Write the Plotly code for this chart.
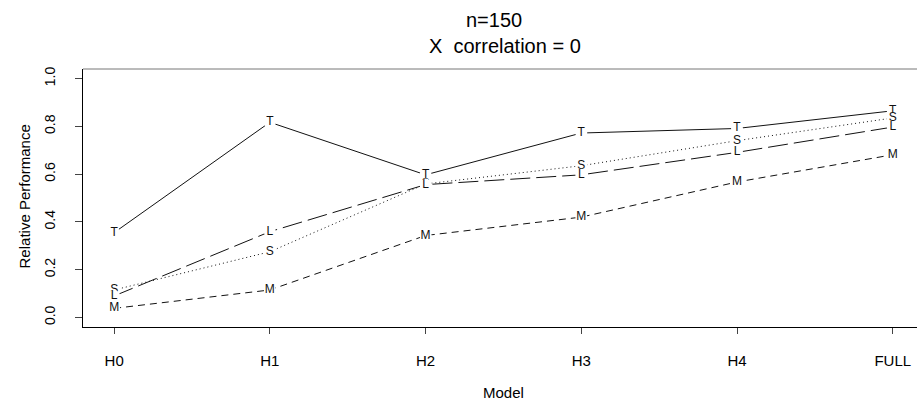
import plotly.graph_objects as go

models = ["H0", "H1", "H2", "H3", "H4", "FULL"]
series_names = ["T", "S", "L", "M"]
T_vals = [0.355, 0.817, 0.597, 0.772, 0.791, 0.865]
S_vals = [0.115, 0.275, 0.559, 0.635, 0.740, 0.835]
L_vals = [0.090, 0.359, 0.556, 0.597, 0.691, 0.797]
M_vals = [0.038, 0.115, 0.343, 0.420, 0.567, 0.681]
y_ticks = [0.0, 0.2, 0.4, 0.6, 0.8, 1.0]

values = {"T": T_vals, "S": S_vals, "L": L_vals, "M": M_vals}
dashes = {"T": "solid", "S": "1px,3px", "L": "20px,6px", "M": "7px,5px"}

FONT = "Liberation Sans, Arial, Helvetica, sans-serif"

fig = go.Figure()
for name in series_names:
    fig.add_trace(go.Scatter(
        x=models, y=values[name], mode="lines+markers+text",
        text=[name] * len(models), textposition="middle center",
        textfont=dict(family=FONT, size=12, color="#111"),
        line=dict(color="#111", width=1, dash=dashes[name]),
        marker=dict(color="white", size=12, line=dict(width=0)),
        showlegend=False, hoverinfo="skip", cliponaxis=False,
    ))

# plot region in pixels
L_px, R_px, T_px, B_px = 82.7, 917.0, 69.0, 326.7
W_px, H_px = R_px - L_px, B_px - T_px

def px(xp):
    return (xp - L_px) / W_px

def py(yp):
    return (B_px - yp) / H_px

fig.add_annotation(text="n=150", x=px(494), y=py(20), xref="paper", yref="paper",
                   showarrow=False, font=dict(family=FONT, size=20, color="black"),
                   xanchor="center", yanchor="middle")
fig.add_annotation(text="X  correlation = 0".replace(" ", "&nbsp;"), x=px(505), y=py(46),
                   xref="paper", yref="paper",
                   showarrow=False, font=dict(family=FONT, size=20, color="black"),
                   xanchor="center", yanchor="middle")
fig.add_annotation(text="Model", x=px(503), y=py(392), xref="paper", yref="paper",
                   showarrow=False, font=dict(family=FONT, size=15, color="black"),
                   xanchor="center", yanchor="middle")
fig.add_annotation(text="Relative Performance", x=px(24), y=py(196), xref="paper", yref="paper",
                   showarrow=False, textangle=-90, font=dict(family=FONT, size=15, color="black"),
                   xanchor="center", yanchor="middle")

fig.add_shape(type="line", xref="paper", yref="paper", x0=0, x1=1, y0=1, y1=1,
              line=dict(color="#777", width=1))

fig.update_layout(
    width=917, height=402,
    margin=dict(l=83, r=0, t=69, b=75),
    paper_bgcolor="white", plot_bgcolor="white",
    font=dict(family=FONT, color="black"),
    xaxis=dict(range=[-0.2, 5 + (917 - 892.7) / 155.9], showgrid=False, zeroline=False,
               showline=True, linecolor="black", linewidth=1,
               ticks="outside", ticklen=6, tickcolor="#444",
               tickfont=dict(size=15, family=FONT, color="black"),
               ticklabelstandoff=14),
    yaxis=dict(range=[-0.04, 1.04], showgrid=False, zeroline=False,
               showline=True, linecolor="black", linewidth=1,
               ticks="outside", ticklen=7, tickcolor="#444",
               tickvals=y_ticks, ticktext=[f"{v:.1f}" for v in y_ticks],
               tickangle=-90,
               tickfont=dict(size=14, family=FONT, color="black"),
               ticklabelstandoff=14),
)

fig.write_html("out.html")
